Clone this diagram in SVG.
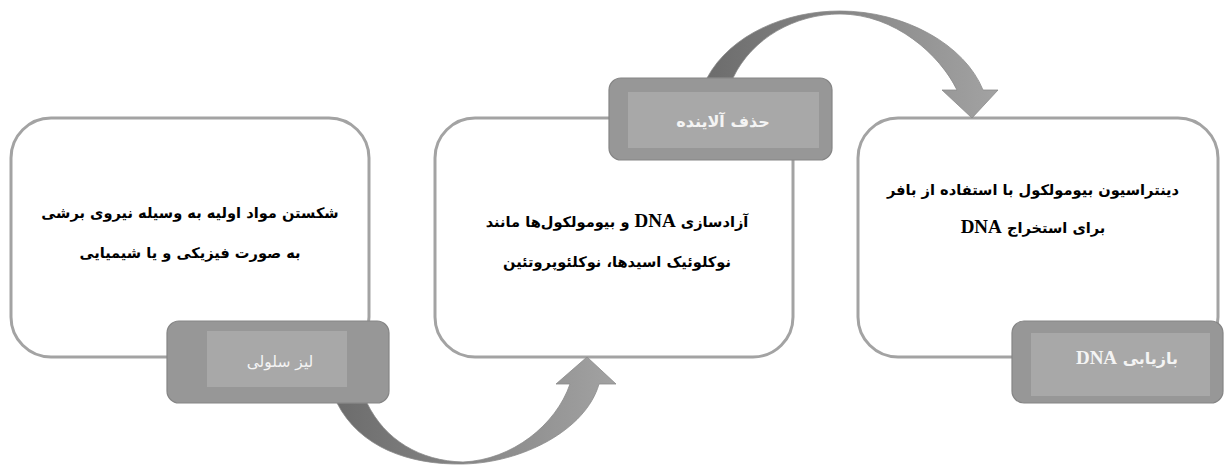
<svg xmlns="http://www.w3.org/2000/svg" width="1226" height="466" viewBox="0 0 1226 466">
<defs>
<style>
.box{fill:#ffffff;stroke:#a3a3a3;stroke-width:3}
.lab{fill:#979797;stroke:#858585;stroke-width:1.2}
.labin{fill:#a8a8a8}
.t{font-family:"DejaVu Sans",sans-serif;font-weight:bold;font-size:14.6px;fill:#000000}
.lt{font-family:"DejaVu Sans",sans-serif;font-size:15.5px;fill:#f4f4f4}
.ltb{font-family:"DejaVu Sans",sans-serif;font-weight:bold;font-size:16px;fill:#f4f4f4}
.dna{font-family:"Liberation Serif",serif;font-weight:bold;font-size:19px}
.arr{stroke:#8a8a8a;stroke-width:0.8}
</style>
<linearGradient id="g1" x1="337" y1="0" x2="615" y2="0" gradientUnits="userSpaceOnUse">
<stop offset="0" stop-color="#6c6c6c"/>
<stop offset="0.45" stop-color="#858585"/>
<stop offset="1" stop-color="#a2a2a2"/>
</linearGradient>
<linearGradient id="g2" x1="707" y1="0" x2="997" y2="0" gradientUnits="userSpaceOnUse">
<stop offset="0" stop-color="#6c6c6c"/>
<stop offset="0.45" stop-color="#868686"/>
<stop offset="1" stop-color="#a2a2a2"/>
</linearGradient>
</defs>
<g id="node1">
<rect class="box" x="11" y="118" width="358" height="239" rx="40"/>
<text class="t" x="190" y="218" text-anchor="middle" direction="rtl">شکستن مواد اولیه به وسیله نیروی برشی</text>
<text class="t" x="190" y="258" text-anchor="middle" direction="rtl">به صورت فیزیکی و یا شیمیایی</text>
</g>
<g id="node2">
<rect class="box" x="435" y="118" width="358" height="239" rx="40"/>
<text class="t" x="617" y="227" text-anchor="middle" direction="rtl">آزادسازی <tspan class="dna">DNA</tspan> و بیومولکول&#x200C;ها مانند</text>
<text class="t" x="617" y="267" text-anchor="middle" direction="rtl">نوکلوئیک اسیدها، نوکلئوپروتئین</text>
</g>
<g id="node3">
<rect class="box" x="858" y="118" width="360" height="239" rx="40"/>
<text class="t" x="1033" y="195" text-anchor="middle" direction="rtl">دینتراسیون بیومولکول با استفاده از بافر</text>
<text class="t" x="1033" y="233" text-anchor="middle" direction="rtl">برای استخراج <tspan class="dna">DNA</tspan></text>
</g>
<g id="connectors">
<path class="arr" fill="url(#g1)" d="M337,403 C360,448 410,465 463,464 C522,463 586,430 599,384 L616,384 L587,357 L556,384 L570,384 C556,425 512,460 463,462 C420,461 385,440 367,403 Z"/>
<path class="arr" fill="url(#g2)" d="M707,78 C730,35 785,11 840,11 C905,11 965,45 983,90 L998,90 L972,118 L942,90 L957,90 C940,55 895,14 840,14 C795,14 752,38 733,78 Z"/>
</g>
<g id="label1">
<rect class="lab" x="167" y="321" width="222" height="82" rx="12"/>
<rect class="labin" x="207" y="331" width="140" height="56"/>
<text class="lt" x="280" y="367" text-anchor="middle" direction="rtl">لیز سلولی</text>
</g>
<g id="label2">
<rect class="lab" x="609" y="78" width="223" height="82" rx="12"/>
<rect class="labin" x="628" y="92" width="191" height="56"/>
<text class="ltb" x="723" y="127" text-anchor="middle" direction="rtl">حذف آلاینده</text>
</g>
<g id="label3">
<rect class="lab" x="1012" y="321" width="211" height="82" rx="12"/>
<rect class="labin" x="1031" y="333" width="179" height="63"/>
<text class="ltb" x="1127" y="364" text-anchor="middle" direction="rtl">بازیابی <tspan class="dna">DNA</tspan></text>
</g>
</svg>
